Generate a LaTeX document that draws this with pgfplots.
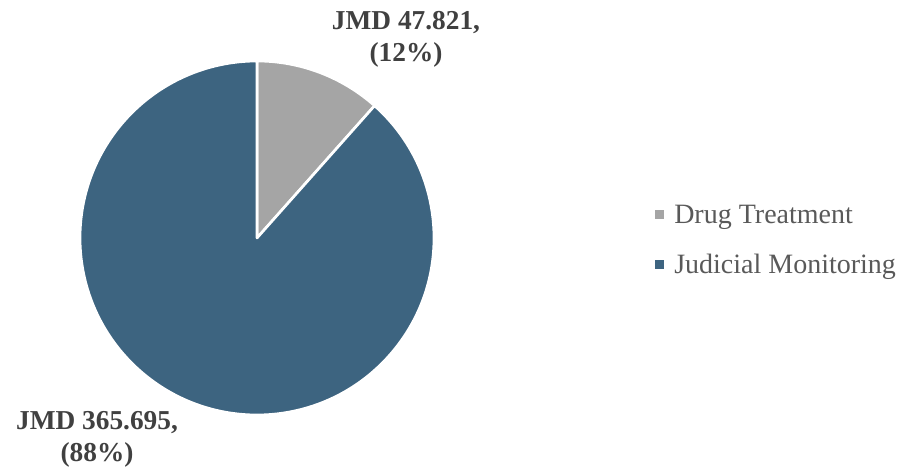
\documentclass[border=0pt]{standalone}
\usepackage{pgfplots}
\pgfplotsset{compat=1.18}
\usepackage{fontspec}
\setmainfont{Liberation Serif}
\definecolor{drug}{HTML}{A5A5A5}
\definecolor{jud}{HTML}{3D6480}
\definecolor{lbl}{HTML}{404040}
\definecolor{leg}{HTML}{595959}
\begin{document}
\begin{tikzpicture}
\pgfmathsetmacro\vA{47.821}
\pgfmathsetmacro\vB{365.695}
\pgfmathsetmacro\fracA{\vA/(\vA+\vB)}
\pgfmathsetmacro\angA{360*\fracA}
\pgfmathsetmacro\angB{360-\angA}
\begin{axis}[hide axis, scale only axis, width=674.25pt, height=351.75pt,
  xmin=0, xmax=899, ymin=0, ymax=469, clip=false]
\path (axis cs:0,0) rectangle (axis cs:899,469);
\filldraw[fill=drug, draw=white, line width=2pt, line join=round]
  (axis cs:257,231) -- (axis cs:257,408) arc[start angle=90, delta angle=-\angA, radius=132.75pt] -- cycle;
\filldraw[fill=jud, draw=white, line width=2pt, line join=round]
  (axis cs:257,231) -- ++({90-\angA}:132.75pt) arc[start angle={90-\angA}, delta angle=-\angB, radius=132.75pt] -- cycle;
\node[font=\fontsize{20.5}{24}\selectfont\bfseries, text=lbl, align=center] at (axis cs:406,430) {JMD 47.821,\\(12\%)};
\node[font=\fontsize{20.5}{24}\selectfont\bfseries, text=lbl, align=center] at (axis cs:97,30) {JMD 365.695,\\(88\%)};
\fill[drug] (axis cs:655,250) rectangle (axis cs:664,259);
\fill[jud] (axis cs:655,200) rectangle (axis cs:664,209);
\node[font=\fontsize{21}{24}\selectfont, text=leg, anchor=base west, inner sep=0pt] at (axis cs:674,245) {Drug Treatment};
\node[font=\fontsize{21}{24}\selectfont, text=leg, anchor=base west, inner sep=0pt] at (axis cs:674,195) {Judicial Monitoring};
\end{axis}
\end{tikzpicture}
\end{document}
